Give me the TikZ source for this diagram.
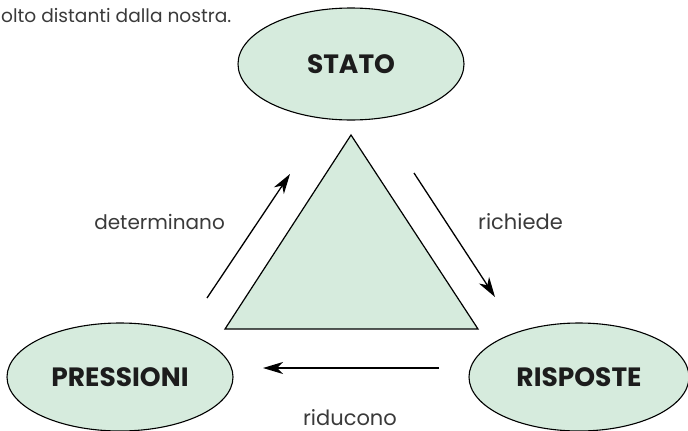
\documentclass[tikz,border=0pt]{standalone}
\usepackage{fontspec}
\setmainfont{Poppins}
\usetikzlibrary{arrows.meta,shapes.geometric}
\definecolor{paleg}{HTML}{D6EBDD}
\definecolor{txtgray}{HTML}{3A3A3A}
\definecolor{boldtxt}{HTML}{1C1C1C}
\tikzset{
  oval/.style={ellipse, draw=black, line width=1.1pt, fill=paleg, inner sep=0pt,
    font=\fontsize{26.5}{30}\selectfont\bfseries, text=boldtxt},
  lbl/.style={inner sep=0pt, font=\fontsize{21}{25}\selectfont, text=txtgray},
  conn/.style={line width=1.3pt, -{Stealth[length=20pt,width=12pt,inset=6pt]}},
  tri/.style={draw=black, line width=1.2pt, fill=paleg, line join=miter}
}
\begin{document}
\begin{tikzpicture}[x=1pt,y=-1pt]
\useasboundingbox (0,0) rectangle (688,431);
% top text
\node[lbl, font=\fontsize{18.6}{22}\selectfont, anchor=base west] (top) at (1,22) {olto distanti dalla nostra.};
% ellipses
\node[oval, minimum width=226pt, minimum height=112pt] (stato) at (351,64) {STATO};
\node[oval, minimum width=226pt, minimum height=108pt] (press) at (120,377) {PRESSIONI};
\node[oval, minimum width=220pt, minimum height=108pt] (risp) at (579,377) {RISPOSTE};
% triangle
\coordinate (apex) at (351,135);
\coordinate (bl) at (225,329);
\coordinate (br) at (478,329);
\draw[tri] (apex) -- (bl) -- (br) -- cycle;
% arrow end points
\coordinate (a1s) at (207,298);
\coordinate (a1e) at (290,174);
\coordinate (a2s) at (414,173);
\coordinate (a2e) at (495,297);
\coordinate (a3s) at (439,368);
\coordinate (a3e) at (263,368);
\draw[conn] (a1s) -- (a1e);
\draw[conn] (a2s) -- (a2e);
\draw[conn] (a3s) -- (a3e);
% labels
\node[lbl, font=\fontsize{20}{24}\selectfont, anchor=base east] (ldet) at (225,229) {determinano};
\node[lbl, anchor=base west] (lric) at (478,229) {richiede};
\node[lbl, anchor=base] (lrid) at (350,425) {riducono};
\end{tikzpicture}
\end{document}
